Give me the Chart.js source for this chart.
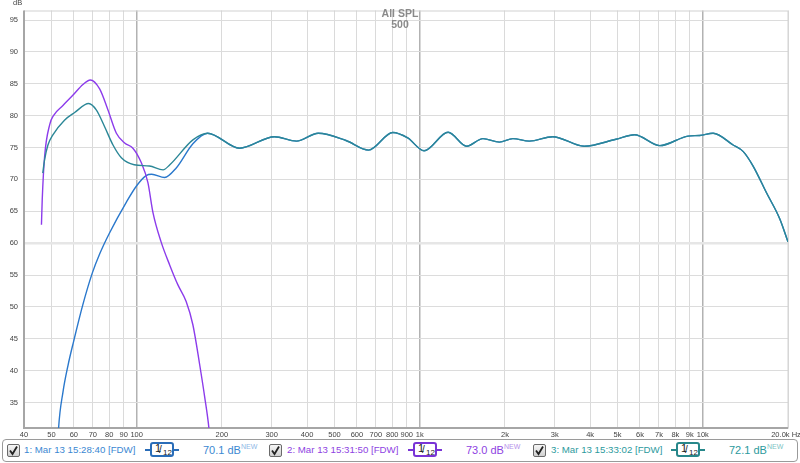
<!DOCTYPE html>
<html>
<head>
<meta charset="utf-8">
<script src="https://cdn.jsdelivr.net/npm/chart.js@4.4.1/dist/chart.umd.min.js"></script>
<style>
html, body { margin: 0; padding: 0; background: #fff; }
#wrap { position: relative; width: 800px; height: 463px; font-family: "Liberation Sans", Arial, sans-serif; }
#spl { position: absolute; left: 0; top: 0; }
#legend { position: absolute; left: 2px; top: 439px; width: 794px; height: 21px; border: 1px solid #9a9a9a; border-radius: 4px; background: #fff; }
.cb { position: absolute; top: 4px; width: 11px; height: 11px; border: 1px solid #6a6a6a; border-radius: 2px; background: linear-gradient(#f6f6f6, #d0d0d0); }
.cb svg { position: absolute; left: 0; top: 0; }
.lbl { position: absolute; top: 4px; font-size: 9.7px; white-space: nowrap; }
.val { position: absolute; top: 4px; font-size: 11px; white-space: nowrap; }
.val sup { font-size: 7px; position: relative; top: -1px; vertical-align: top; }
.sm { position: absolute; top: 3px; width: 34px; height: 15px; }
.sm .ln { position: absolute; top: 6px; height: 2px; width: 6px; }
.sm .bx { position: absolute; left: 5px; top: -1px; width: 20px; height: 11px; border-width: 2px; border-style: solid; border-radius: 3px; font-size: 10px; color: #222; line-height: 11px; }
.sm .bx i { font-style: normal; position: absolute; left: 3px; top: -1px; font-size: 11px; }
.sm .bx s { text-decoration: none; position: absolute; left: 7px; top: 0; font-size: 10px; }
.sm .bx b { font-weight: normal; position: absolute; left: 11px; top: 3px; font-size: 8px; }
</style>
</head>
<body>
<div id="wrap">
<canvas id="spl" width="800" height="463"></canvas>
<div id="legend"></div>
</div>
<script>
// measurement 1 (blue) below 170 Hz, then shares the upper part with measurement 3
var blueLowFreq = [52.5, 53.0, 54.9, 57.2, 59.9, 64.6, 69.7, 74, 80.2, 91.9, 100, 108, 113, 125.5, 138, 158];
var blueLowDb   = [27.0, 31.0, 36.6, 40.8, 44.6, 50.4, 55.3, 58.3, 61.6, 66.4, 69.0, 70.6, 70.8, 70.3, 71.8, 75.6];

// measurement 3 (teal) below 170 Hz
var tealLowFreq = [46.6, 47.3, 48.6, 50.6, 55.6, 60.4, 67.7, 72, 77, 82.5, 88.3, 98, 111, 124, 131, 158];
var tealLowDb   = [71.0, 73.1, 75.4, 77.0, 79.3, 80.5, 81.9, 80.9, 78.3, 75.4, 73.4, 72.3, 72.1, 71.5, 72.3, 76.2];

// common upper range of 1 and 3
var highFreq = [178, 231, 307, 367, 438, 549, 660, 803, 907, 1036, 1260, 1465, 1673, 1912, 2133, 2440, 2950, 3812, 4936, 5740, 7048, 8872, 9756, 10873, 12800, 13875, 15057, 16790, 18713, 20000];
var highDb   = [77.25, 74.9, 76.7, 76.0, 77.25, 76.1, 74.6, 77.35, 76.5, 74.5, 77.4, 75.2, 76.4, 75.85, 76.4, 76.0, 76.7, 75.2, 76.3, 77.0, 75.3, 76.8, 76.9, 77.25, 75.4, 74.4, 72.1, 67.9, 63.8, 60.2];

// measurement 2 (purple)
var purpleFreq = [46.1, 46.4, 47.3, 49.3, 51.0, 54.9, 59.5, 64.6, 68.6, 74, 79.2, 84.8, 90.7, 97, 103.9, 109.6, 114.2, 122, 130.9, 139.9, 149.6, 158, 166.9, 174, 180, 182];
var purpleDb   = [62.9, 66.9, 73.6, 78.6, 80.1, 81.6, 83.2, 84.9, 85.6, 84.2, 80.9, 77.25, 75.7, 74.9, 72.6, 69.5, 64.8, 60.2, 56.55, 53.45, 50.85, 47.2, 41.0, 35.8, 31.0, 28.5];

var xTicks = [40, 50, 60, 70, 80, 90, 100, 200, 300, 400, 500, 600, 700, 800, 900, 1000, 2000, 3000, 4000, 5000, 6000, 7000, 8000, 9000, 10000, 20000];
var xTickLabels = ['40', '50', '60', '70', '80', '90', '100', '200', '300', '400', '500', '600', '700', '800', '900', '1k', '2k', '3k', '4k', '5k', '6k', '7k', '8k', '9k', '10k', '20.0k Hz'];
var yTicks = [35, 40, 45, 50, 55, 60, 65, 70, 75, 80, 85, 90, 95];

var seriesNames = ['1: Mar 13 15:28:40 [FDW]', '2: Mar 13 15:31:50 [FDW]', '3: Mar 13 15:33:02 [FDW]'];
var seriesAvg = ['70.1 dB', '73.0 dB', '72.1 dB'];

function pts(f, v) {
  return f.map(function (x, i) { return { x: x, y: v[i] }; });
}

var extras = {
  id: 'extras',
  beforeDatasetsDraw: function (chart) {
    var ctx = chart.ctx, a = chart.chartArea;
    ctx.save();
    ctx.strokeStyle = '#d2d2d2';
    ctx.lineWidth = 1;
    ctx.strokeRect(a.left + 0.5, a.top + 0.5, a.right - a.left - 0.5, a.bottom - a.top);
    ctx.strokeStyle = '#a6a6a6';
    ctx.lineWidth = 2;
    ctx.beginPath();
    ctx.moveTo(a.left, a.top);
    ctx.lineTo(a.left, a.bottom);
    ctx.lineTo(a.right, a.bottom);
    ctx.stroke();
    ctx.restore();
  },
  afterDraw: function (chart) {
    var ctx = chart.ctx, a = chart.chartArea, x = chart.scales.x;
    ctx.save();
    ctx.fillStyle = '#8a8a8a';
    ctx.font = 'bold 10.5px "Liberation Sans", Arial, sans-serif';
    ctx.textAlign = 'center';
    ctx.textBaseline = 'middle';
    ctx.fillText('All SPL', 400, 14);
    ctx.fillText('500', 400, 25);
    ctx.fillStyle = '#444';
    ctx.font = '7.5px "Liberation Sans", Arial, sans-serif';
    ctx.textAlign = 'left';
    ctx.fillText('dB', 13, 3);
    // last frequency label sits against the right edge
    var last = xTicks.length - 1;
    ctx.textAlign = 'center';
    ctx.fillText(xTickLabels[last], x.getPixelForValue(xTicks[last]) - 2, a.bottom + 7);
    ctx.restore();
  }
};

new Chart(document.getElementById('spl').getContext('2d'), {
  type: 'line',
  data: {
    datasets: [
      { label: seriesNames[2], data: pts(tealLowFreq.concat(highFreq), tealLowDb.concat(highDb)), borderColor: '#2b8797', order: 0 },
      { label: seriesNames[1], data: pts(purpleFreq, purpleDb), borderColor: '#8c3ceb', order: 1 },
      { label: seriesNames[0], data: pts(blueLowFreq.concat(highFreq), blueLowDb.concat(highDb)), borderColor: '#2a78cc', order: 2 }
    ]
  },
  options: {
    responsive: false,
    animation: false,
    devicePixelRatio: 1,
    layout: { padding: { top: 6, right: 12, left: 0, bottom: 0 } },
    elements: {
      point: { radius: 0 },
      line: { borderWidth: 1.4, cubicInterpolationMode: 'monotone', fill: false }
    },
    plugins: { legend: { display: false }, tooltip: { enabled: false } },
    scales: {
      x: {
        type: 'logarithmic',
        min: 40,
        max: 20000,
        afterBuildTicks: function (s) { s.ticks = xTicks.map(function (v) { return { value: v }; }); },
        afterFit: function (s) { s.height = 35; },
        ticks: {
          autoSkip: false,
          maxRotation: 0,
          padding: 2,
          color: '#444',
          font: { family: '"Liberation Sans", Arial, sans-serif', size: 7.5 },
          callback: function (v, i) { return i === xTicks.length - 1 ? '' : xTickLabels[i]; }
        },
        grid: {
          drawTicks: false,
          color: function (c) {
            var v = c.tick && c.tick.value;
            return (v === 100 || v === 1000 || v === 10000) ? '#b2b2b2' : '#dadada';
          },
          lineWidth: function (c) {
            var v = c.tick && c.tick.value;
            return (v === 100 || v === 1000 || v === 10000) ? 1.5 : 1;
          }
        },
        border: { display: false }
      },
      y: {
        min: 31,
        max: 96.5,
        afterBuildTicks: function (s) { s.ticks = yTicks.map(function (v) { return { value: v }; }); },
        afterFit: function (s) { s.width = 24; },
        ticks: {
          padding: 6,
          color: '#444',
          font: { family: '"Liberation Sans", Arial, sans-serif', size: 7.5 }
        },
        grid: {
          drawTicks: false,
          color: function (c) { return c.tick && c.tick.value === 60 ? '#e6e6e6' : '#dcdcdc'; },
          lineWidth: function (c) { return c.tick && c.tick.value === 60 ? 2.5 : 1; }
        },
        border: { display: false }
      }
    }
  },
  plugins: [extras]
});

// legend strip along the bottom
var legendItems = [
  { cb: 7, lbl: 24, sm: 145, val: 203, text: '#3b88d2', sup: '#8fb8e6', box: '#2a6db8' },
  { cb: 269, lbl: 287, sm: 408, val: 466, text: '#8e42e2', sup: '#b690ea', box: '#7934d6' },
  { cb: 533, lbl: 551, sm: 671, val: 729, text: '#2c9a9d', sup: '#80c4c4', box: '#27878a' }
];
var lg = document.getElementById('legend');
var html = '';
legendItems.forEach(function (it, i) {
  html += '<div class="cb" style="left:' + (it.cb - 3) + 'px"><svg width="11" height="11"><polyline points="2,5.5 4.5,9 9,1.5" fill="none" stroke="#222" stroke-width="1.8"/></svg></div>';
  html += '<div class="lbl" style="left:' + (it.lbl - 3) + 'px;color:' + it.text + '">' + seriesNames[i] + '</div>';
  html += '<div class="sm" style="left:' + (it.sm - 3) + 'px">' +
    '<div class="ln" style="left:0;background:' + it.box + '"></div>' +
    '<div class="bx" style="border-color:' + it.box + '"><i>1</i><s>/</s><b>12</b></div>' +
    '<div class="ln" style="left:28px;background:' + it.box + '"></div></div>';
  html += '<div class="val" style="left:' + (it.val - 3) + 'px;color:' + it.text + '">' + seriesAvg[i] + '<sup style="color:' + it.sup + '">NEW</sup></div>';
});
lg.innerHTML = html;
</script>
</body>
</html>
